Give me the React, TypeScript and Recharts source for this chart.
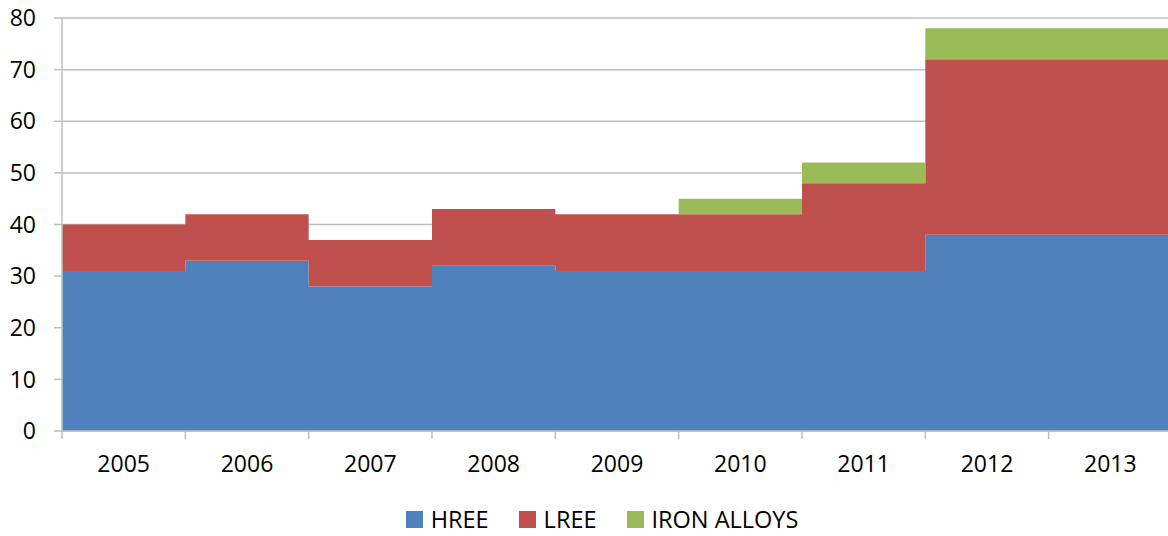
import React from 'react';
import {
  AreaChart,
  Area,
  XAxis,
  YAxis,
  CartesianGrid,
  Legend,
} from 'recharts';

// Rare earth volumes by year, stacked
const years = ['2005', '2006', '2007', '2008', '2009', '2010', '2011', '2012', '2013'];
const hree = [31, 33, 28, 32, 31, 31, 31, 38, 38];
const lree = [9, 9, 9, 11, 11, 11, 17, 34, 34];
const ironAlloys = [0, 0, 0, 0, 0, 3, 4, 6, 6];
const yTicks = [0, 10, 20, 30, 40, 50, 60, 70, 80];

const seriesInfo = [
  { key: 'hree', name: 'HREE', color: '#4f81bd' },
  { key: 'lree', name: 'LREE', color: '#c0504d' },
  { key: 'iron', name: 'IRON ALLOYS', color: '#9bbb59' },
];

// Each year occupies the band [i, i+1]; a closing row at the end lets the
// last step run to the right edge.
const rows = Array.from({ length: years.length + 1 }, (_, i) => {
  const k = Math.min(i, years.length - 1);
  return { x: i, hree: hree[k], lree: lree[k], iron: ironAlloys[k] };
});

const boundaryTicks = Array.from({ length: years.length + 1 }, (_, i) => i);
const centerTicks = years.map((_, i) => i + 0.5);

const FONT = '"Open Sans", "Liberation Sans", sans-serif';
const FONT_SIZE = 23;
const GRID = '#bfbfbf';

const LegendContent = () => (
  <div
    style={{
      height: 36,
      boxSizing: 'border-box',
      paddingTop: 2,
      display: 'flex',
      justifyContent: 'center',
      alignItems: 'center',
      fontFamily: FONT,
      fontSize: 23.5,
      color: '#000',
    }}
  >
    {seriesInfo.map((s) => (
      <div key={s.key} style={{ display: 'flex', alignItems: 'center', margin: '0 15px' }}>
        <span style={{ width: 17, height: 17, background: s.color, display: 'inline-block', marginRight: 8 }} />
        <span>{s.name}</span>
      </div>
    ))}
  </div>
);

const EmptyTick = () => <g />;

export default function App() {
  return (
    <div style={{ position: 'absolute', left: 0, top: 0, width: 1168, height: 536, overflow: 'hidden' }}>
      <AreaChart
        width={1180}
        height={536}
        data={rows}
        margin={{ top: 18, right: 8, left: 0, bottom: 0 }}
      >
        <CartesianGrid vertical={false} stroke={GRID} strokeWidth={1.5} />
        <XAxis
          xAxisId="bounds"
          dataKey="x"
          type="number"
          domain={[0, years.length]}
          ticks={boundaryTicks}
          tick={<EmptyTick />}
          tickSize={8}
          height={9}
          stroke={GRID}
          strokeWidth={1.5}
          allowDataOverflow
        />
        <XAxis
          xAxisId="labels"
          dataKey="x"
          type="number"
          domain={[0, years.length]}
          ticks={centerTicks}
          tickFormatter={(v: number) => years[Math.floor(v)]}
          axisLine={false}
          tickLine={false}
          tickSize={0}
          tickMargin={16}
          height={60}
          tick={{ fill: '#000', fontSize: FONT_SIZE, fontFamily: FONT }}
          interval={0}
        />
        <YAxis
          domain={[0, 80]}
          ticks={yTicks}
          width={62}
          tickSize={8}
          tickMargin={18}
          stroke={GRID}
          strokeWidth={1.5}
          tick={{ fill: '#000', fontSize: FONT_SIZE, fontFamily: FONT }}
          interval={0}
        />
        <Legend verticalAlign="bottom" content={<LegendContent />} wrapperStyle={{ left: 42, width: 1120 }} />
        {seriesInfo.map((s) => (
          <Area
            key={s.key}
            xAxisId="bounds"
            dataKey={s.key}
            name={s.name}
            stackId="total"
            type="stepAfter"
            fill={s.color}
            fillOpacity={1}
            stroke="none"
            isAnimationActive={false}
          />
        ))}
      </AreaChart>
    </div>
  );
}
